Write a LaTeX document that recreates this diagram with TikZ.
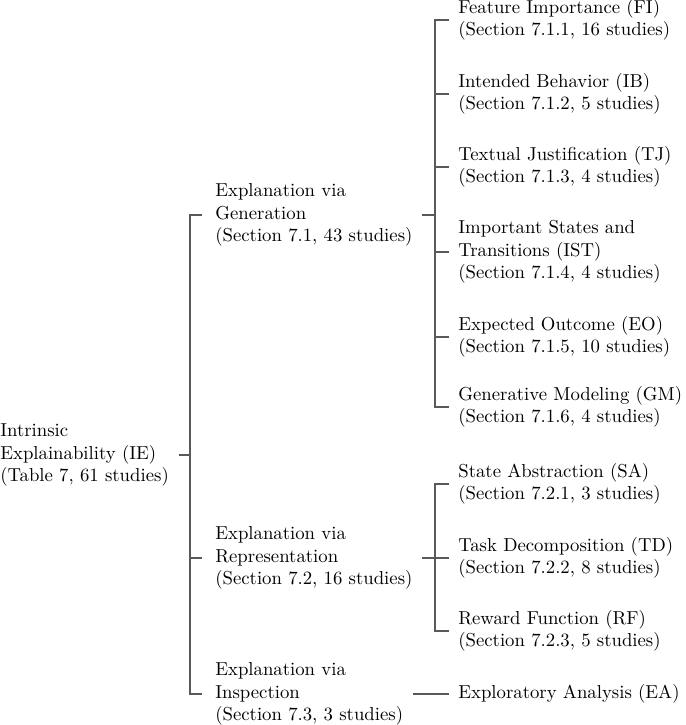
\documentclass[tikz,border=0pt]{standalone}
\begin{document}
\begin{tikzpicture}[x=0.5333pt,y=-0.5333pt,
  conn/.style={draw=black!65,line width=0.55pt},
  lbl/.style={anchor=west,align=left,inner xsep=5pt,inner ysep=0pt,font=\fontsize{10}{12}\selectfont}]
\useasboundingbox (0,0) rectangle (685,725);
% root
\node[lbl] (ie) at (-9.4,455) {Intrinsic\\Explainability (IE)\\(Table 7, 61 studies)};
% level 1
\node[lbl] (gen) at (205.6,215) {Explanation via\\Generation\\(Section 7.1, 43 studies)};
\node[lbl] (rep) at (205.6,558) {Explanation via\\Representation\\(Section 7.2, 16 studies)};
\node[lbl] (ins) at (205.6,694) {Explanation via\\Inspection\\(Section 7.3, 3 studies)};
% level 2
\node[lbl] (fi) at (448.6,20) {Feature Importance (FI)\\(Section 7.1.1, 16 studies)};
\node[lbl] (ib) at (448.6,94) {Intended Behavior (IB)\\(Section 7.1.2, 5 studies)};
\node[lbl] (tj) at (448.6,167) {Textual Justification (TJ)\\(Section 7.1.3, 4 studies)};
\node[lbl] (ist) at (448.6,252) {Important States and\\Transitions (IST)\\(Section 7.1.4, 4 studies)};
\node[lbl] (eo) at (448.6,337) {Expected Outcome (EO)\\(Section 7.1.5, 10 studies)};
\node[lbl] (gm) at (448.6,407) {Generative Modeling (GM)\\(Section 7.1.6, 4 studies)};
\node[lbl] (sa) at (448.6,484) {State Abstraction (SA)\\(Section 7.2.1, 3 studies)};
\node[lbl] (td) at (448.6,558) {Task Decomposition (TD)\\(Section 7.2.2, 8 studies)};
\node[lbl] (rf) at (448.6,631) {Reward Function (RF)\\(Section 7.2.3, 5 studies)};
\node[lbl] (ea) at (448.6,694) {Exploratory Analysis (EA)};
% bars
\coordinate (b0) at (190,455);
\coordinate (b1) at (435,215);
\coordinate (b2) at (435,558);
\draw[conn] (ie.east) -- (b0);
\foreach \n in {gen,rep,ins} \draw[conn,shorten >=1.8pt] (b0) |- (\n.west);
\draw[conn] (gen.east) -- (b1);
\foreach \n in {fi,ib,tj,ist,eo,gm} \draw[conn] (b1) |- (\n.west);
\draw[conn] (rep.east) -- (b2);
\foreach \n in {sa,td,rf} \draw[conn] (b2) |- (\n.west);
\draw[conn] (ins.east) -- (ea.west);
\end{tikzpicture}
\end{document}
